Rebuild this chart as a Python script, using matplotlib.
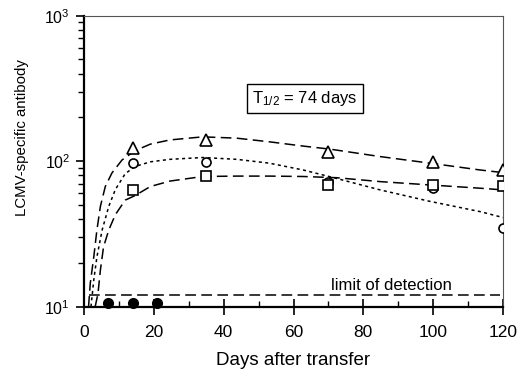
import matplotlib
matplotlib.use("Agg")
import matplotlib.pyplot as plt

plt.rcParams['font.family'] = ['Liberation Sans', 'DejaVu Sans']
plt.rcParams['mathtext.fontset'] = 'custom'
plt.rcParams['mathtext.rm'] = 'Liberation Sans'
plt.rcParams['mathtext.it'] = 'Liberation Sans'

# measured points
days = [14, 35, 70, 100, 120]
tri_vals = [123, 139, 115, 98, 87]
circ_vals = [97, 98, 72, 65, 35]
sq_vals = [63, 79, 69, 69, 68]

# below detection
neg_days = [7, 14, 21]
neg_vals = [10.6, 10.6, 10.6]

# fitted curves
tri_curve_x = [1.3, 1.8, 2.8, 3.7, 4.7, 6.1, 8, 10.9, 14.6, 19, 24.6, 34, 43.7, 53, 62.8, 70.5, 84.8, 99, 113.5, 120]
tri_curve_y = [10, 14.5, 22, 33.7, 49, 67, 83, 102, 118, 131, 140, 147, 144, 136, 127, 121, 107.6, 97, 87, 83.5]

circ_curve_x = [2.0, 2.8, 3.7, 5.2, 7.1, 9, 11.8, 14.6, 19, 24.6, 34, 43.7, 53, 62.8, 72, 84.8, 99, 113.5, 120]
circ_curve_y = [10, 15.3, 22, 33.7, 49, 64, 82, 92, 99, 103, 106, 103, 97, 87, 76.5, 63.5, 53, 45, 41]

sq_curve_x = [3.2, 4.0, 4.7, 5.6, 7.1, 9, 11.8, 14.6, 19, 24.6, 34, 43.7, 53, 62.8, 72.4, 84.8, 99, 113.5, 120]
sq_curve_y = [10, 12.3, 17.9, 25.8, 33.7, 43, 54, 58, 67, 73, 78.5, 79, 79, 78.5, 77, 72.4, 68.7, 65.2, 63.5]

limit_x = [1.3, 119]
limit_y = [12, 12]

fig = plt.figure(figsize=(5.21, 3.71), dpi=100)
ax = fig.add_axes([84 / 521, 1 - 306.7 / 371, 419 / 521, 291 / 371])

ax.plot(tri_curve_x, tri_curve_y, color='black', lw=1.1, dashes=(7, 3.5), zorder=2)
ax.plot(circ_curve_x, circ_curve_y, color='black', lw=1.1, dashes=(2, 2.2), zorder=2)
ax.plot(sq_curve_x, sq_curve_y, color='black', lw=1.1, dashes=(7, 3.5), zorder=2)
ax.plot(limit_x, limit_y, color='black', lw=1.1, dashes=(7, 3.5), zorder=2)

ax.plot(days, tri_vals, linestyle='none', marker='^', ms=8, mfc='white', mec='black', mew=1.2, zorder=3)
ax.plot(days, circ_vals, linestyle='none', marker='o', ms=6.5, mfc='white', mec='black', mew=1.2, zorder=3)
ax.plot(days, sq_vals, linestyle='none', marker='s', ms=7.5, mfc='white', mec='black', mew=1.2, zorder=3)
ax.plot(neg_days, neg_vals, linestyle='none', marker='o', ms=7, mfc='black', mec='black', zorder=3, clip_on=False)

ax.set_yscale('log')
ax.set_xlim(0, 120)
ax.set_ylim(10, 1000)
ax.set_xticks([0, 20, 40, 60, 80, 100, 120])
ax.set_xticks([10, 30, 50, 70, 90, 110], minor=True)

for side in ['left', 'bottom']:
    ax.spines[side].set_linewidth(1.6)
for side in ['top', 'right']:
    ax.spines[side].set_linewidth(0.8)
    ax.spines[side].set_color('#555555')

ax.tick_params(axis='x', which='major', direction='inout', length=11, width=1.2, labelsize=12.5, pad=8)
ax.tick_params(axis='x', which='minor', direction='in', length=4, width=1.0)
ax.tick_params(axis='y', which='major', direction='out', length=6, width=1.2, labelsize=11.5, pad=4)
ax.tick_params(axis='y', which='minor', direction='out', length=4, width=1.0)

ax.set_xlabel('Days after transfer', fontsize=13.5, labelpad=8)
fig.text(21.7 / 521, 1 - 137.5 / 371, 'LCMV-specific antibody', rotation=90,
         ha='center', va='center', fontsize=10.8)

ax.text(0.527, 0.7155, r'T$_{\mathrm{1/2}}$ = 74 days', transform=ax.transAxes,
        ha='center', va='center', fontsize=12,
        bbox=dict(boxstyle='square,pad=0.3', fc='white', ec='black', lw=1.0))

ax.text(88, 13.0, 'limit of detection', ha='center', va='baseline', fontsize=12)

fig.savefig('out.png', dpi=100)
